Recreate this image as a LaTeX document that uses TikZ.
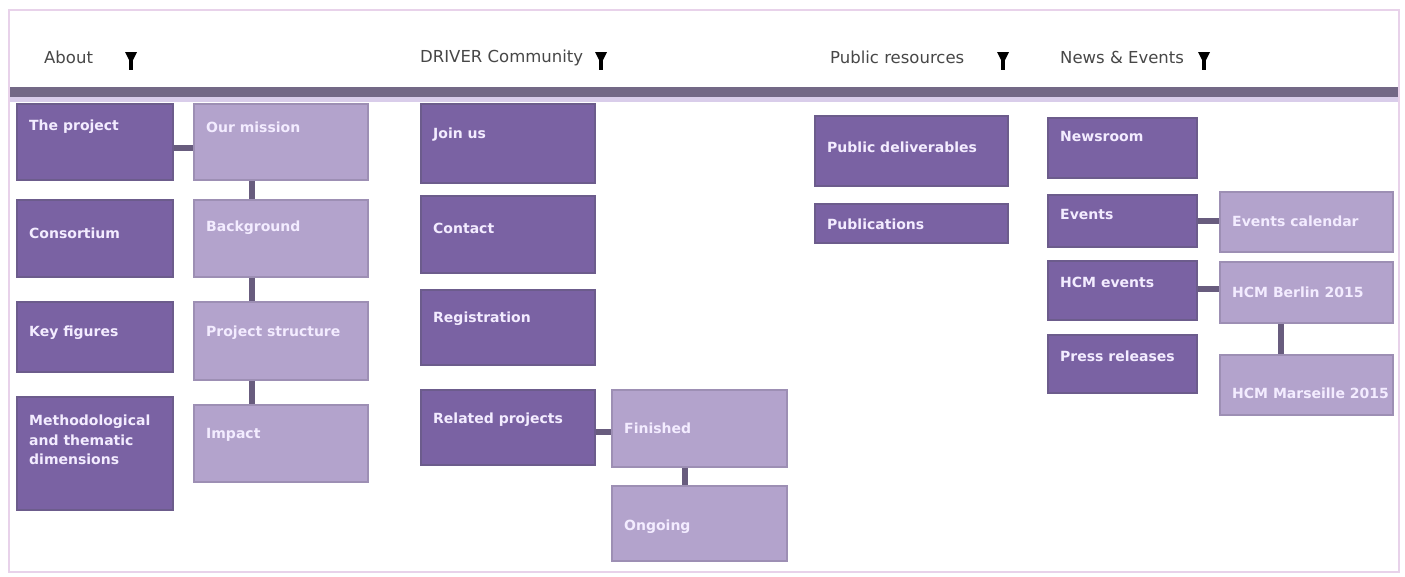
\documentclass[tikz,border=0pt]{standalone}
\usepackage{fontspec}
\setmainfont{DejaVu Sans}
\usetikzlibrary{calc}

\definecolor{dark}{HTML}{7A62A3}
\definecolor{darkline}{HTML}{6C5C8C}
\definecolor{light}{HTML}{B3A3CC}
\definecolor{lightline}{HTML}{9D8FB4}
\definecolor{barcol}{HTML}{736886}
\definecolor{barlight}{HTML}{D9CDEA}
\definecolor{conncol}{HTML}{685C7E}
\definecolor{framecol}{HTML}{E8D2EA}
\definecolor{labtxt}{HTML}{F3ECFF}

\tikzset{
  box/.style={draw, line width=1.5pt, inner sep=0pt},
  dbox/.style={box, fill=dark, draw=darkline},
  lbox/.style={box, fill=light, draw=lightline},
  lab/.style={anchor=west, inner sep=0pt, text=labtxt,
    font=\fontsize{14}{19.5}\selectfont\bfseries, align=left},
  head/.style={anchor=west, inner sep=0pt, text=black!72,
    font=\fontsize{16.5}{18}\selectfont},
  link/.style={draw=conncol, line width=6pt},
  caret/.style={fill=black},
}

% name, style, x1, y1, x2, y2, text y, text
\newcommand\menubox[8]{%
  \node[#2, minimum width={(#5-#3)*1pt}, minimum height={(#6-#4)*1pt}]
    (#1) at ({(#3+#5)/2},{(#4+#6)/2}) {};
  \node[lab] (#1-t) at ({#3+12},#7) {#8};
}
% drop-down caret at x
\newcommand\caret[1]{%
  \fill[caret] ({#1-6},52) -- ({#1+6},52) -- (#1,64) -- cycle;
  \fill[caret] ({#1-1.6},58) rectangle ({#1+1.6},70);
}

\begin{document}
\begin{tikzpicture}[x=1pt,y=-1pt]
  \useasboundingbox (0,0) rectangle (1405,576);
  \fill[white] (0,0) rectangle (1405,576);
  \draw[framecol, line width=2pt] (9,10) rectangle (1399,572);

  % menu bar
  \node[head] (hAbout) at (44,57) {About};
  \node[head] (hDriver) at (420,58) {DRIVER Community};
  \node[head] (hPublic) at (830,57) {Public resources};
  \node[head] (hNews) at (1060,57) {News \& Events};
  \caret{131} \caret{601} \caret{1003} \caret{1204}
  \fill[barlight] (10,96) rectangle (1398,102);
  \fill[barcol] (10,87) rectangle (1398,97);

  % About
  \menubox{proj}{dbox}{17}{104}{173}{180}{127}{The project}
  \menubox{cons}{dbox}{17}{200}{173}{277}{233}{Consortium}
  \menubox{keyf}{dbox}{17}{302}{173}{372}{333}{Key figures}
  \menubox{meth}{dbox}{17}{397}{173}{510}{440}{Methodological\\and thematic\\dimensions}
  \menubox{miss}{lbox}{194}{104}{368}{180}{127}{Our mission}
  \menubox{back}{lbox}{194}{200}{368}{277}{228}{Background}
  \menubox{strc}{lbox}{194}{302}{368}{380}{333}{Project structure}
  \menubox{impc}{lbox}{194}{405}{368}{482}{435}{Impact}

  % DRIVER Community
  \menubox{join}{dbox}{421}{104}{595}{183}{135}{Join us}
  \menubox{cont}{dbox}{421}{196}{595}{273}{228}{Contact}
  \menubox{regi}{dbox}{421}{290}{595}{365}{319}{Registration}
  \menubox{rela}{dbox}{421}{390}{595}{465}{420}{Related projects}
  \menubox{fini}{lbox}{612}{390}{787}{467}{428}{Finished}
  \menubox{ongo}{lbox}{612}{486}{787}{561}{527}{Ongoing}

  % Public resources
  \menubox{deli}{dbox}{815}{116}{1008}{186}{147}{Public deliverables}
  \menubox{publ}{dbox}{815}{204}{1008}{243}{224}{Publications}

  % News & Events
  \menubox{newr}{dbox}{1048}{118}{1197}{178}{136}{Newsroom}
  \menubox{even}{dbox}{1048}{195}{1197}{247}{214}{Events}
  \menubox{hcme}{dbox}{1048}{261}{1197}{320}{282}{HCM events}
  \menubox{pres}{dbox}{1048}{335}{1197}{393}{356}{Press releases}
  \menubox{ecal}{lbox}{1220}{192}{1393}{252}{221}{Events calendar}
  \menubox{hcmb}{lbox}{1220}{262}{1393}{323}{292}{HCM Berlin 2015}
  \menubox{hcmm}{lbox}{1220}{355}{1393}{415}{393}{HCM Marseille 2015}

  % connectors
  \draw[link] ([yshift=-6pt]proj.east) -- ([yshift=-6pt]proj.east -| miss.west);
  \draw[link] ([xshift=59pt]miss.south west) -- ([xshift=59pt]back.north west);
  \draw[link] ([xshift=59pt]back.south west) -- ([xshift=59pt]strc.north west);
  \draw[link] ([xshift=59pt]strc.south west) -- ([xshift=59pt]impc.north west);
  \draw[link] ([yshift=-4pt]rela.east) -- ([yshift=-4pt]rela.east -| fini.west);
  \draw[link] ([xshift=74pt]fini.south west) -- ([xshift=74pt]ongo.north west);
  \draw[link] (even.east) -- (even.east -| ecal.west);
  \draw[link] ([yshift=2pt]hcme.east) -- ([yshift=2pt]hcme.east -| hcmb.west);
  \draw[link] ([xshift=62pt]hcmb.south west) -- ([xshift=62pt]hcmm.north west);
\end{tikzpicture}
\end{document}
